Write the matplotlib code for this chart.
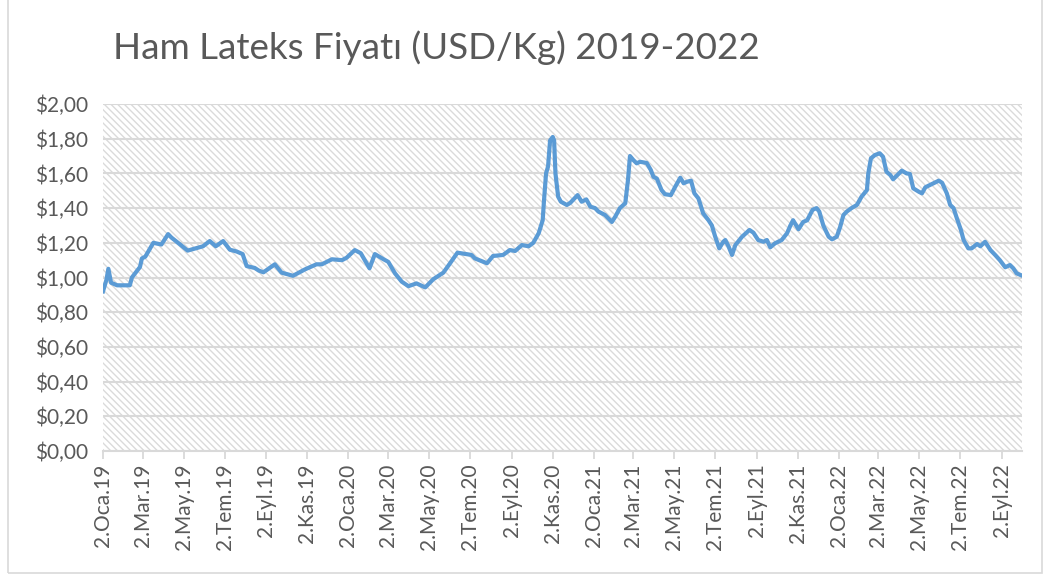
import matplotlib
matplotlib.use("Agg")
import matplotlib.pyplot as plt
from matplotlib.patches import Rectangle
from matplotlib.ticker import FuncFormatter
import numpy as np

TITLE = "Ham Lateks Fiyatı (USD/Kg) 2019-2022"

# (approximate turning points)
dates = [
    "2019-01-02", "2019-01-07", "2019-01-10", "2019-01-14", "2019-01-23", "2019-02-11",
    "2019-02-14", "2019-02-26", "2019-03-01", "2019-03-06", "2019-03-18", "2019-03-30",
    "2019-04-09", "2019-04-14", "2019-04-27", "2019-05-08", "2019-05-22", "2019-05-31",
    "2019-06-10", "2019-06-19", "2019-06-30", "2019-07-10", "2019-07-20", "2019-07-29",
    "2019-08-04", "2019-08-16", "2019-08-22", "2019-08-29", "2019-09-15", "2019-09-25",
    "2019-10-12", "2019-10-30", "2019-11-16", "2019-11-24", "2019-12-09", "2019-12-24",
    "2019-12-31", "2020-01-12", "2020-01-21", "2020-02-03", "2020-02-11", "2020-02-24",
    "2020-03-02", "2020-03-12", "2020-03-22", "2020-04-01", "2020-04-13", "2020-04-26",
    "2020-05-08", "2020-05-23", "2020-06-02", "2020-06-13", "2020-07-04", "2020-07-09",
    "2020-07-27", "2020-08-05", "2020-08-20", "2020-08-30", "2020-09-07", "2020-09-17",
    "2020-09-27", "2020-10-04", "2020-10-12", "2020-10-18", "2020-10-20", "2020-10-23",
    "2020-10-26", "2020-10-29", "2020-11-02", "2020-11-04", "2020-11-06", "2020-11-10",
    "2020-11-14", "2020-11-23", "2020-11-28", "2020-12-09", "2020-12-15", "2020-12-22",
    "2020-12-28", "2021-01-04", "2021-01-09", "2021-01-19", "2021-01-29", "2021-02-03",
    "2021-02-10", "2021-02-18", "2021-02-22", "2021-02-25", "2021-03-02", "2021-03-07",
    "2021-03-12", "2021-03-22", "2021-03-28", "2021-04-01", "2021-04-06", "2021-04-13",
    "2021-04-18", "2021-04-27", "2021-05-03", "2021-05-11", "2021-05-16", "2021-05-21",
    "2021-05-27", "2021-06-01", "2021-06-07", "2021-06-14", "2021-06-22", "2021-06-27",
    "2021-07-02", "2021-07-08", "2021-07-14", "2021-07-17", "2021-07-22", "2021-07-27",
    "2021-08-01", "2021-08-11", "2021-08-22", "2021-08-28", "2021-09-04", "2021-09-12",
    "2021-09-17", "2021-09-22", "2021-09-29", "2021-10-09", "2021-10-17", "2021-10-22",
    "2021-10-26", "2021-11-03", "2021-11-10", "2021-11-16", "2021-11-20", "2021-11-24",
    "2021-11-30", "2021-12-04", "2021-12-10", "2021-12-18", "2021-12-23", "2021-12-30",
    "2022-01-04", "2022-01-09", "2022-01-14", "2022-01-21", "2022-01-29", "2022-02-05",
    "2022-02-13", "2022-02-15", "2022-02-19", "2022-02-25", "2022-03-04", "2022-03-09",
    "2022-03-14", "2022-03-20", "2022-03-24", "2022-04-06", "2022-04-13", "2022-04-18",
    "2022-04-23", "2022-05-01", "2022-05-06", "2022-05-11", "2022-05-21", "2022-05-31",
    "2022-06-05", "2022-06-12", "2022-06-17", "2022-06-22", "2022-06-27", "2022-07-03",
    "2022-07-07", "2022-07-14", "2022-07-19", "2022-07-27", "2022-08-01", "2022-08-08",
    "2022-08-16", "2022-08-23", "2022-08-30", "2022-09-07", "2022-09-14", "2022-09-19",
    "2022-09-24", "2022-09-30",
]
prices = [
    0.92, 0.985, 1.05, 0.97, 0.955, 0.955,
    1.00, 1.06, 1.11, 1.12, 1.20, 1.19,
    1.25, 1.23, 1.19, 1.155, 1.17, 1.18,
    1.21, 1.18, 1.21, 1.16, 1.15, 1.135,
    1.066, 1.055, 1.04, 1.03, 1.076, 1.028,
    1.01, 1.047, 1.076, 1.076, 1.105, 1.10,
    1.114, 1.158, 1.14, 1.053, 1.135, 1.105,
    1.09, 1.024, 0.976, 0.95, 0.966, 0.943,
    0.99, 1.028, 1.082, 1.143, 1.13, 1.11,
    1.082, 1.124, 1.13, 1.158, 1.153, 1.187,
    1.18, 1.20, 1.255, 1.33, 1.447, 1.60,
    1.64, 1.79, 1.81, 1.79, 1.60, 1.466,
    1.437, 1.418, 1.43, 1.475, 1.437, 1.45,
    1.408, 1.40, 1.38, 1.36, 1.32, 1.35,
    1.40, 1.428, 1.56, 1.70, 1.677, 1.658,
    1.667, 1.66, 1.62, 1.58, 1.57, 1.504,
    1.48, 1.475, 1.52, 1.575, 1.543, 1.552,
    1.558, 1.485, 1.456, 1.37, 1.33, 1.30,
    1.235, 1.168, 1.206, 1.216, 1.178, 1.13,
    1.187, 1.235, 1.274, 1.258, 1.216, 1.206,
    1.216, 1.174, 1.197, 1.216, 1.255, 1.30,
    1.33, 1.278, 1.32, 1.33, 1.36, 1.39,
    1.40, 1.38, 1.30, 1.235, 1.22, 1.235,
    1.29, 1.36, 1.38, 1.40, 1.418, 1.466,
    1.504, 1.60, 1.687, 1.706, 1.716, 1.696,
    1.61, 1.59, 1.566, 1.616, 1.60, 1.597,
    1.514, 1.495, 1.485, 1.52, 1.539, 1.558,
    1.546, 1.485, 1.418, 1.40, 1.341, 1.274,
    1.216, 1.168, 1.168, 1.193, 1.18, 1.206,
    1.158, 1.13, 1.10, 1.059, 1.072, 1.053,
    1.024, 1.014,
]

tick_dates = [f"{y}-{m:02d}-02" for y in (2019, 2020, 2021, 2022)
              for m in (1, 3, 5, 7, 9, 11) if not (y == 2022 and m == 11)]
month_names = {1: "Oca", 3: "Mar", 5: "May", 7: "Tem", 9: "Eyl", 11: "Kas"}
y_ticks = [0.0, 0.2, 0.4, 0.6, 0.8, 1.0, 1.2, 1.4, 1.6, 1.8, 2.0]

TEXT = "#595959"
GRID = "#d9d9d9"
LINE = "#5b9bd5"

plt.rcParams['font.family'] = ['Lato', 'DejaVu Sans']
plt.rcParams['hatch.linewidth'] = 1.0

fig = plt.figure(figsize=(10.46, 5.76), dpi=100)
ax = fig.add_axes([103 / 1046, 1 - 451 / 576, (1022 - 103) / 1046, (451 - 104) / 576])

x = np.array(dates, dtype="datetime64[D]")
ticks = np.array(tick_dates, dtype="datetime64[D]")

# hatched plot area background (Excel "wide downward diagonal")
ax.add_patch(Rectangle((0, 0), 1, 1, transform=ax.transAxes, facecolor="white",
                       edgecolor="#dadada", lw=0, hatch="\\\\\\\\\\", zorder=0))

ax.plot(x, prices, color=LINE, lw=3.0, solid_joinstyle="round", zorder=3)

ax.set_ylim(0, 2.0)
ax.set_yticks(y_ticks)
ax.yaxis.set_major_formatter(FuncFormatter(lambda v, p: "$" + f"{v:.2f}".replace(".", ",")))
ax.set_xlim(np.datetime64("2019-01-02"), np.datetime64("2022-10-02"))
ax.set_xticks(ticks)
ax.set_xticklabels([f"2.{month_names[int(d[5:7])]}.{d[2:4]}" for d in tick_dates], rotation=90)

ax.grid(axis="y", color=GRID, lw=1.5, zorder=1)
ax.set_axisbelow(True)
for s in ("top", "right", "left"):
    ax.spines[s].set_visible(False)
ax.spines["bottom"].set_color(GRID)
ax.spines["bottom"].set_linewidth(1.5)
ax.tick_params(axis="x", colors=GRID, length=6, width=1.3, labelcolor=TEXT, labelsize=15, pad=3)
ax.tick_params(axis="y", length=0, labelcolor=TEXT, labelsize=15, pad=11)

fig.text(113 / 1046, 1 - 48 / 576, TITLE, fontsize=26.5, color=TEXT, va="center", ha="left")

# chart border
fig.patches.append(Rectangle((8 / 1046, 1 - 573 / 576), (1042 - 8) / 1046, 1.1,
                             transform=fig.transFigure, fill=False, edgecolor=GRID, lw=1.2))

fig.savefig("out.png", dpi=100)
